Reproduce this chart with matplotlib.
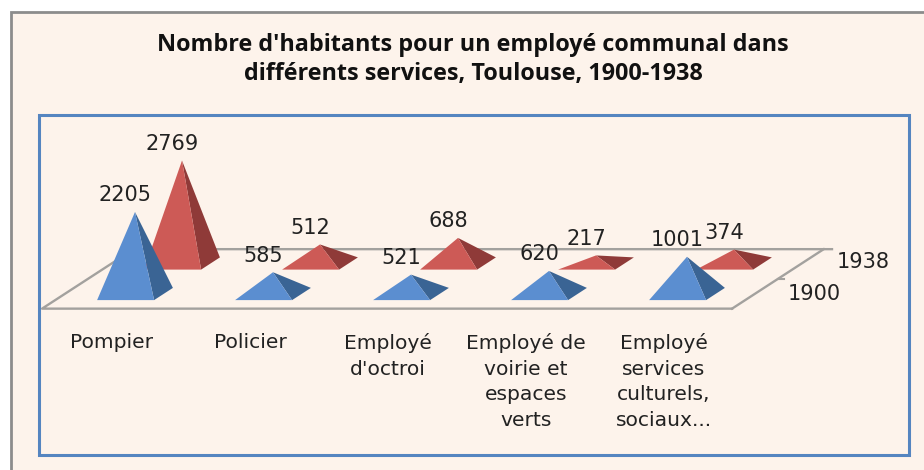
import matplotlib
matplotlib.use("Agg")
import matplotlib.pyplot as plt
from matplotlib.patches import Polygon, Rectangle

# values
categories = ["Pompier", "Policier", "Employé\nd'octroi",
              "Employé de\nvoirie et\nespaces\nverts",
              "Employé\nservices\nculturels,\nsociaux..."]
series_names = ["1900", "1938"]
values_1900 = [2205, 585, 521, 620, 1001]
values_1938 = [2769, 512, 688, 217, 374]

W, H = 924, 470
BG = "#fdf3eb"
FONT = "DejaVu Sans"
TITLE_FONT = "Open Sans"

# scale of the fake 3d: pixels per category, per unit, per series (depth)
PX_CAT = 138.0
PX_VAL = 0.0372
PX_DEPTH_X = 47.0
PX_DEPTH_Y = 30.5
X0, Y0 = 135.0, 294.0    # where category 0 / series 0 / value 0 lands


def proj(cat, ser, val=0):
    # oblique projection, depth becomes an offset in data units
    return (cat + ser * PX_DEPTH_X / PX_CAT, val + ser * PX_DEPTH_Y / PX_VAL)


fig = plt.figure(figsize=(W / 100, H / 100), dpi=100, facecolor="white")
ax = fig.add_axes([0, 0, 1, 1])
ax.set_xlim(-X0 / PX_CAT, (W - X0) / PX_CAT)
ax.set_ylim(-(H - Y0) / PX_VAL, Y0 / PX_VAL)
ax.axis("off")


def px_rect(x0, y0, x1, y1, **kw):
    fig.add_artist(Rectangle((x0 / W, 1 - y1 / H), (x1 - x0) / W, (y1 - y0) / H,
                             transform=fig.transFigure, **kw))


# outer grey frame and inner blue frame
px_rect(10.5, 12.5, W + 10, H + 10, facecolor=BG, edgecolor="#8c8c8c", linewidth=2, zorder=-5)
px_rect(38.5, 114.5, 909, 455, facecolor=BG, edgecolor="#5585c0", linewidth=2.2, zorder=-4)

# floor of the chart
fl, fr = -0.51, 4.49
sf, sb = -0.48, 1.47
floor_col = "#a3a19e"
ax.plot(*zip(proj(fr, sf), proj(fl, sf), proj(fl, sb), proj(fr + 0.06, sb)),
        color=floor_col, lw=1.7, zorder=1)
ax.plot(*zip(proj(fr, sf), proj(fr, sb)), color=floor_col, lw=1.7, zorder=1)
tick = proj(fr, 0.5)
ax.plot([tick[0], tick[0] + 0.04], [tick[1], tick[1]], color=floor_col, lw=1.5, zorder=1)


def pyramid(cat, ser, val, front, side, z):
    hw, hd = 0.2065, 0.2
    fl_ = proj(cat - hw, ser - hd)
    fr_ = proj(cat + hw, ser - hd)
    br_ = proj(cat + hw, ser + hd)
    top = proj(cat, ser, val)
    ax.add_patch(Polygon([fr_, br_, top], closed=True, facecolor=side, edgecolor="none", zorder=z))
    ax.add_patch(Polygon([fl_, fr_, top], closed=True, facecolor=front, edgecolor="none", zorder=z))
    # value sits up and left of the tip
    ax.annotate(str(val), xy=top, xytext=(-9.5 * 0.72, 16.5 * 0.72), textcoords="offset points",
                ha="center", va="center", fontsize=15, family=FONT, color="#222222", zorder=6)


# back row first so that the blue pyramids stay in front
for i, v in enumerate(values_1938):
    pyramid(i, 1, v, "#cd5a56", "#8f3a38", 2)
for i, v in enumerate(values_1900):
    pyramid(i, 0, v, "#5b8ed0", "#3a6494", 3)

# category labels under the floor
label_y = -(333 - Y0) / PX_VAL
for i, name in enumerate(categories):
    ax.text(i - 23 / PX_CAT, label_y, name, ha="center", va="top", fontsize=14.6,
            family=FONT, color="#222222", linespacing=1.44)

# series names to the right of the floor
for s, name in enumerate(series_names):
    p = proj(fr, s)
    ax.annotate(name, xy=p, xytext=((60 + s * 2) * 0.72, (-0.5 + s * 2) * 0.72),
                textcoords="offset points", ha="center", va="center", fontsize=15,
                family=FONT, color="#222222")

fig.text(473 / W, 1 - 59.5 / H,
         "Nombre d'habitants pour un employé communal dans\ndifférents services, Toulouse, 1900-1938",
         ha="center", va="center", fontsize=16.8, fontweight="bold", family=TITLE_FONT,
         color="#111111", linespacing=1.25)

fig.savefig("out.png", dpi=100, facecolor="white")
